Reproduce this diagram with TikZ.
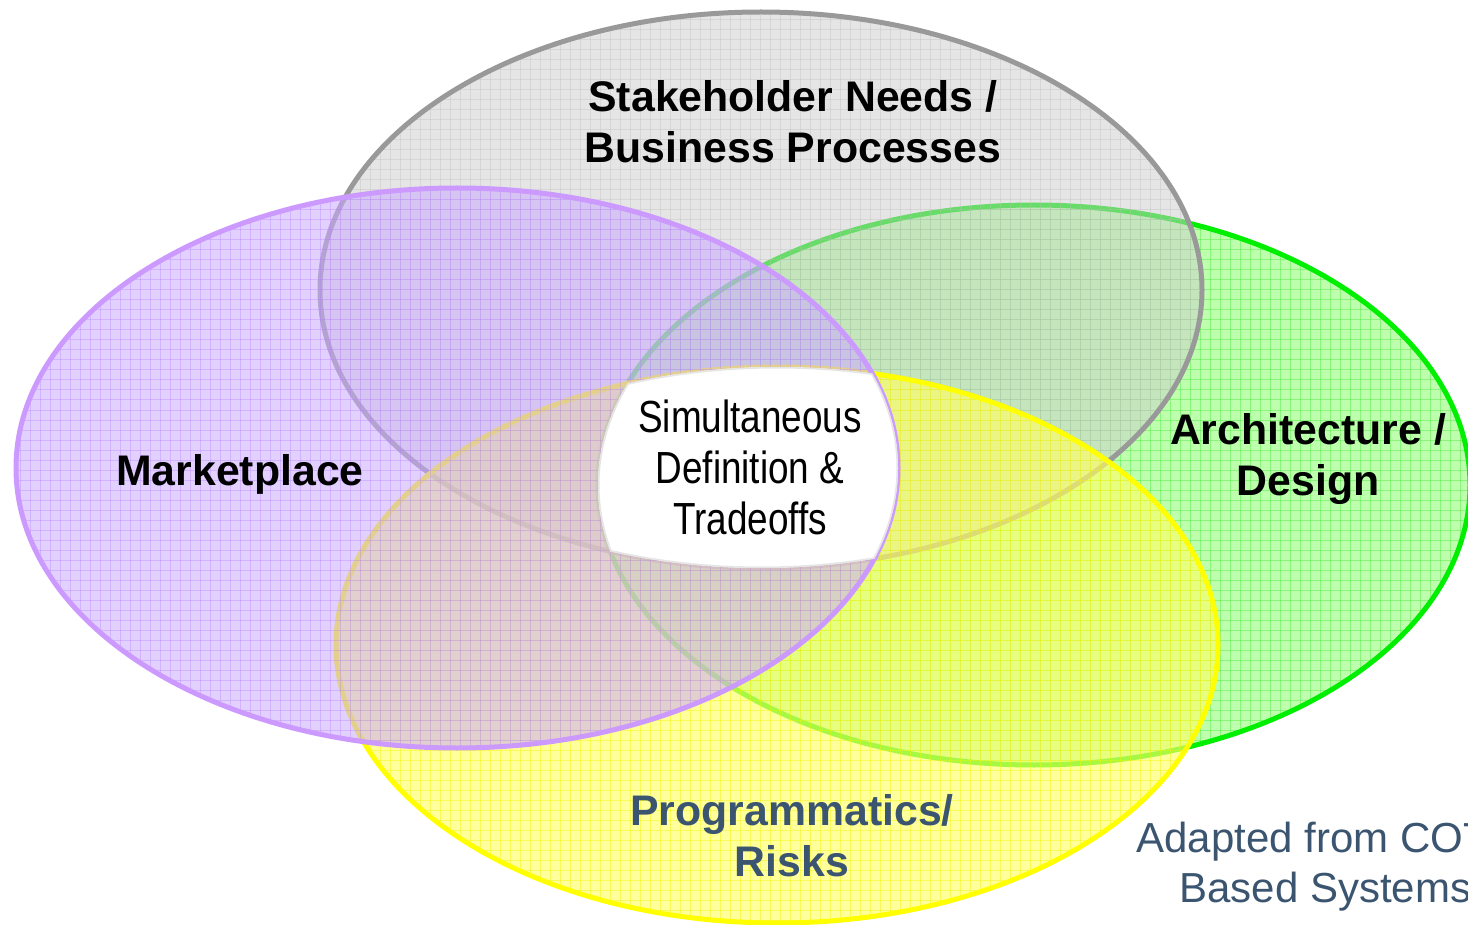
\documentclass[tikz,border=0pt]{standalone}
\usepackage{fontspec}
\setmainfont{Liberation Sans}
\newfontfamily\narrowfont[FakeStretch=0.82]{Liberation Sans}
\definecolor{gFill}{HTML}{CDCDCD}
\definecolor{gGrid}{HTML}{BBBBBB}
\definecolor{gLine}{HTML}{999999}
\definecolor{pFill}{HTML}{CBAAFF}
\definecolor{pGrid}{HTML}{B57EFF}
\definecolor{pLine}{HTML}{CC99FF}
\definecolor{grFill}{HTML}{7CFF5C}
\definecolor{grGrid}{HTML}{3DE62E}
\definecolor{grLine}{HTML}{00EE00}
\definecolor{yFill}{HTML}{FFFF66}
\definecolor{yGrid}{HTML}{F2F20A}
\definecolor{yLine}{HTML}{FFFF00}
\definecolor{slate}{HTML}{3B5571}
\tikzset{
  lbl/.style={align=center, font=\fontsize{21.4}{25.5}\selectfont\bfseries, text=black},
  ctr/.style={align=center, font=\narrowfont\fontsize{22.5}{25.5}\selectfont, text=black},
  attr/.style={anchor=west, font=\fontsize{21}{25}\selectfont, text=slate, inner sep=0pt},
  gridlines/.style={line width=0.5pt},
  rim/.style={line width=2.5pt}
}
\newcommand{\gridfill}{%
  \foreach \i in {0,10,...,1470}{\draw[gridlines] (\i,0) -- (\i,925);}
  \foreach \j in {0,10,...,930}{\draw[gridlines] (0,\j) -- (1468,\j);}
}
\begin{document}
\begin{tikzpicture}[x=0.5pt,y=-0.5pt]
\useasboundingbox (0,0) rectangle (1468,925);
\clip (0,0) rectangle (1468,925);
\fill[white] (0,0) rectangle (1468,925);

\coordinate (cG) at (1034,485);
\coordinate (cS) at (761,290);
\coordinate (cY) at (777,645);
\coordinate (cP) at (457,468);

% green ellipse (bottom-most)
\fill[grFill, opacity=0.5] (cG) ellipse [x radius=436, y radius=280];
\begin{scope}
  \clip (cG) ellipse [x radius=436, y radius=280];
  \begin{scope}[draw=grGrid, opacity=0.4] \gridfill \end{scope}
\end{scope}
\draw[rim, grLine] (cG) ellipse [x radius=436, y radius=280];

% gray ellipse
\fill[gFill, opacity=0.5] (cS) ellipse [x radius=441, y radius=278];
\begin{scope}
  \clip (cS) ellipse [x radius=441, y radius=278];
  \begin{scope}[draw=gGrid, opacity=0.35] \gridfill \end{scope}
\end{scope}
\draw[rim, gLine] (cS) ellipse [x radius=441, y radius=278];

% yellow ellipse
\fill[yFill, opacity=0.65] (cY) ellipse [x radius=441, y radius=278];
\begin{scope}
  \clip (cY) ellipse [x radius=441, y radius=278];
  \begin{scope}[draw=yGrid, opacity=0.45] \gridfill \end{scope}
\end{scope}
\draw[rim, yLine] (cY) ellipse [x radius=441, y radius=278];

% purple ellipse (top-most)
\fill[pFill, opacity=0.55] (cP) ellipse [x radius=441, y radius=280];
\begin{scope}
  \clip (cP) ellipse [x radius=441, y radius=280];
  \begin{scope}[draw=pGrid, opacity=0.35] \gridfill \end{scope}
\end{scope}
\draw[rim, pLine] (cP) ellipse [x radius=441, y radius=280];

% white central intersection
\begin{scope}
  \clip (cG) ellipse [x radius=436, y radius=280];
  \clip (cS) ellipse [x radius=441, y radius=278];
  \clip (cP) ellipse [x radius=441, y radius=280];
  \clip (cY) ellipse [x radius=441, y radius=278];
  \fill[white] (0,0) rectangle (1468,925);
  \draw[line width=1.5pt, black!10] (cG) ellipse [x radius=436, y radius=280];
  \draw[line width=1.5pt, black!10] (cS) ellipse [x radius=441, y radius=278];
  \draw[line width=1.5pt, black!10] (cP) ellipse [x radius=441, y radius=280];
  \draw[line width=1.5pt, black!10] (cY) ellipse [x radius=441, y radius=278];
\end{scope}

% labels
\node[lbl] (stake) at (793,122) {Stakeholder Needs /\\Business Processes};
\node[lbl] (market) at (240,474) {Marketplace};
\node[lbl] (arch) at (1308,459) {Architecture /\\Design};
\node[lbl, text=slate] (prog) at (792,836) {Programmatics/\\Risks};
\node[ctr] (core) at (750,467) {Simultaneous\\Definition \&\\Tradeoffs};

\node[attr] (src1) at (1136,842) {Adapted from COTS-};
\node[attr] (src2) at (1179,892) {Based Systems};
\end{tikzpicture}
\end{document}
